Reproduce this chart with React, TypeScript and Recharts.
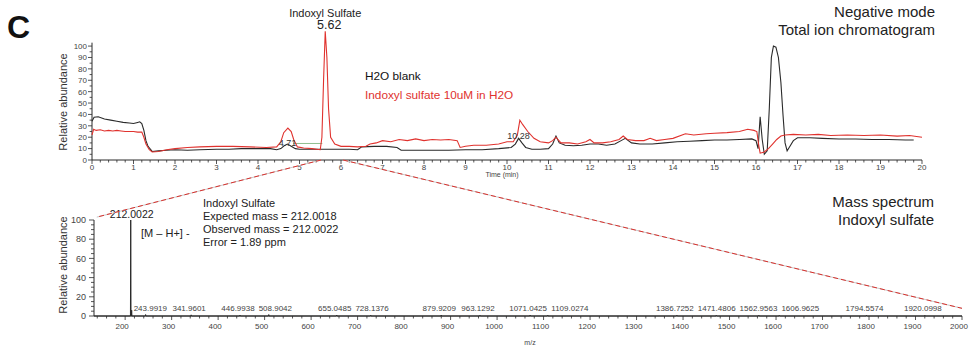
import React from 'react';
import { ComposedChart, Line, Scatter, XAxis, YAxis, ReferenceLine } from 'recharts';

const FONT = '"Liberation Sans", Arial, Helvetica, sans-serif';
const INK = '#2a2a2a';
const RED = '#e0322e';

// total ion chromatogram, [time (min), relative abundance]
const blankTrace: [number, number][] = [
  [0, 34], [0.05, 37.5], [0.15, 38], [0.3, 36], [0.45, 35], [0.6, 34], [0.75, 33], [0.9, 32.5],
  [1.0, 32], [1.1, 33], [1.15, 33.5], [1.2, 32], [1.25, 26], [1.3, 17], [1.35, 12], [1.45, 7.5],
  [1.6, 8], [1.8, 8.5], [2.0, 9], [2.3, 8.5], [2.6, 9], [3.0, 9.5], [3.3, 9.5], [3.6, 10],
  [4.0, 10], [4.3, 10], [4.45, 9], [4.55, 10], [4.63, 12.5], [4.71, 14], [4.8, 12], [4.9, 10],
  [5.0, 9.5], [5.3, 9.5], [5.6, 9.5], [5.9, 9.5], [6.2, 9.5], [6.4, 9], [6.5, 11.5], [6.8, 12],
  [7.1, 12], [7.35, 11], [7.45, 8.5], [7.8, 8.5], [8.2, 8.5], [8.6, 8.5], [9.0, 9], [9.4, 9],
  [9.8, 10], [10.1, 11], [10.2, 14], [10.28, 19], [10.36, 15], [10.45, 11], [10.6, 9.5], [10.8, 9.5],
  [11.0, 10], [11.1, 14], [11.18, 21], [11.26, 15], [11.4, 13], [11.6, 12.5], [11.8, 13], [12.0, 14],
  [12.2, 14], [12.4, 13], [12.6, 14], [12.75, 17], [12.85, 19], [13.0, 15], [13.2, 14], [13.5, 14],
  [13.8, 15], [14.1, 16], [14.4, 16.5], [14.7, 17], [15.0, 17.5], [15.3, 17.5], [15.6, 18], [15.9, 18.5],
  [16.0, 17], [16.05, 10], [16.1, 38], [16.15, 18], [16.2, 5], [16.27, 8], [16.32, 45], [16.37, 90],
  [16.42, 100], [16.48, 99], [16.54, 90], [16.6, 68], [16.65, 40], [16.7, 15], [16.75, 8], [16.8, 11],
  [16.9, 17], [17.0, 19.5], [17.3, 19.5], [17.6, 19], [18.0, 18.5], [18.4, 18.5], [18.8, 18], [19.2, 18],
  [19.6, 17.5], [19.8, 17.5],
];

const sampleTrace: [number, number][] = [
  [0, 22], [0.04, 27], [0.1, 26], [0.2, 26.5], [0.3, 25.5], [0.4, 26], [0.5, 25.5], [0.6, 26],
  [0.7, 25.5], [0.8, 25], [0.9, 25], [1.0, 25], [1.1, 24.5], [1.2, 24.5], [1.25, 20], [1.3, 14],
  [1.38, 9], [1.45, 7], [1.6, 7.5], [1.8, 9], [2.0, 10], [2.3, 11], [2.6, 11.5], [3.0, 12],
  [3.4, 12], [3.8, 11.5], [4.2, 11], [4.45, 11.5], [4.55, 16], [4.62, 24], [4.72, 28], [4.8, 25],
  [4.86, 18], [4.95, 11.5], [5.1, 10.5], [5.3, 10], [5.5, 9], [5.54, 20], [5.58, 70], [5.62, 113],
  [5.66, 90], [5.7, 45], [5.75, 20], [5.85, 14], [6.0, 12], [6.2, 12], [6.4, 11.5], [6.6, 12],
  [6.7, 14], [6.85, 15], [7.0, 17], [7.2, 16], [7.4, 18], [7.6, 17], [7.8, 18.5], [8.0, 17],
  [8.2, 18], [8.4, 17.5], [8.6, 18], [8.8, 17], [8.87, 11], [9.0, 12], [9.2, 13], [9.5, 13],
  [9.8, 14], [10.0, 16], [10.15, 16], [10.25, 22], [10.31, 35], [10.38, 31], [10.5, 25], [10.65, 19],
  [10.8, 16], [11.0, 15], [11.1, 17], [11.18, 20], [11.3, 15], [11.5, 15], [11.7, 14], [11.9, 16],
  [12.0, 18], [12.1, 15], [12.3, 15], [12.5, 16], [12.7, 18], [12.8, 21], [12.9, 18], [13.1, 17],
  [13.3, 17], [13.45, 19], [13.6, 17], [13.8, 18], [14.0, 19], [14.3, 23], [14.5, 22], [14.8, 23],
  [15.0, 23.5], [15.3, 24], [15.6, 25], [15.8, 27], [15.95, 26], [16.02, 25], [16.07, 12], [16.1, 6],
  [16.2, 7], [16.3, 10], [16.4, 14], [16.5, 18], [16.6, 21], [16.7, 22], [16.9, 22.5], [17.2, 22],
  [17.5, 22.5], [17.8, 21.5], [18.2, 22], [18.6, 21.5], [19.0, 22], [19.4, 21], [19.7, 21.5], [20.0, 20],
];

const baselineMark: [number, number][] = [[4.85, 14.5], [5.55, 14.5]];

const rtLabels = [
  { x: 4.71, y: 13, label: '4.71' },
  { x: 10.28, y: 19, label: '10.28' },
];
const mainPeak = [{ x: 5.62, y: 113, label: '5.62', name: 'Indoxyl Sulfate' }];

// mass spectrum, m/z and relative abundance
const peakMz = [212.0022, 214.0, 243.9919, 341.9601, 446.9938, 508.9042, 655.0485, 728.1376, 879.9209,
  963.1292, 1071.0425, 1109.0274, 1386.7252, 1471.4806, 1562.9563, 1606.9625, 1794.5574, 1920.0998];
const peakAbund = [100, 6, 1.5, 1.2, 1, 1.5, 1, 0.8, 1, 0.8, 1, 0.8, 0.8, 0.7, 0.8, 0.7, 0.7, 0.7];
const labelledFrom = 2; // first two peaks are labelled separately

const MZ_MIN = 133;
const MZ_MAX = 2000;

// layout
const W = 969;
const TOP = { h: 185, mt: 29, mr: 47, mb: 5, yw: 92, xh: 20 };
const BOT = { y0: 180, h: 167, mt: 40, mr: 7, mb: 11, yw: 94, xh: 20 };
const topPlotW = W - TOP.yw - TOP.mr;
const topPlotH = TOP.h - TOP.mt - TOP.mb - TOP.xh;
const botPlotW = W - BOT.yw - BOT.mr;
const botPlotH = BOT.h - BOT.mt - BOT.mb - BOT.xh;
const topX = (t: number) => TOP.yw + (t / 20) * topPlotW;
const topY = (v: number) => TOP.mt + topPlotH - (v / 115) * topPlotH;
const botX = (mz: number) => BOT.yw + ((mz - MZ_MIN) / (MZ_MAX - MZ_MIN)) * botPlotW;
const botY = (a: number) => BOT.y0 + BOT.mt + botPlotH - (a / 100) * botPlotH;

const timeTicks = Array.from({ length: 101 }, (_, i) => i / 5);
const topAbundTicks = Array.from({ length: 21 }, (_, i) => i * 5);
const mzTicks = Array.from({ length: 94 }, (_, i) => 140 + i * 20);
const botAbundTicks = Array.from({ length: 21 }, (_, i) => i * 5);

const toXY = (arr: [number, number][]) => arr.map(([x, y]) => ({ x, y }));

const spectrum = (() => {
  const pts = [{ x: MZ_MIN, y: 0 }];
  peakMz.forEach((mz, i) => {
    pts.push({ x: mz - 0.6, y: 0 }, { x: mz, y: peakAbund[i] }, { x: mz + 0.6, y: 0 });
  });
  pts.push({ x: MZ_MAX, y: 0 });
  return pts;
})();

// peak labels pushed right when they would overlap (as the instrument software does)
const LABEL_FS = 8;
const pxPerMz = botPlotW / (MZ_MAX - MZ_MIN);
const peakLabels = (() => {
  let prevRight = peakMz[labelledFrom - 1];
  return peakMz.slice(labelledFrom).map((mz, j) => {
    const text = mz.toFixed(4);
    const halfMz = (((text.length - 1) * 0.556 + 0.278) * LABEL_FS) / 2 / pxPerMz;
    const center = Math.max(mz, prevRight + 4 / pxPerMz + halfMz);
    prevRight = center + halfMz;
    return { x: center, y: peakAbund[j + labelledFrom], label: text };
  });
})();
const topPeakLabel = [{ x: peakMz[0], y: peakAbund[0], label: peakMz[0].toFixed(4) }];

const makeXTick = (isMajor: (v: number) => boolean, dy: number, dx: number) => (props: any) => {
  const { x, y, payload } = props;
  const major = isMajor(payload.value);
  return (
    <g>
      <line x1={x} x2={x} y1={y} y2={y + (major ? 4 : 2.5)} stroke={INK} strokeWidth={0.8} />
      {major && (
        <text x={x + dx} y={y + dy} textAnchor="middle" fontSize={8} fill="#444" fontFamily={FONT}>
          {payload.value}
        </text>
      )}
    </g>
  );
};

const makeYTick = (isMajor: (v: number) => boolean, len: number, gap: number, fs: number) => (props: any) => {
  const { x, y, payload } = props;
  const major = isMajor(payload.value);
  return (
    <g>
      <line x1={x - (major ? len : len * 0.6)} x2={x} y1={y} y2={y} stroke={INK} strokeWidth={0.8} />
      {major && (
        <text x={x - gap} y={y + fs * 0.36} textAnchor="end" fontSize={fs} fill="#444" fontFamily={FONT}>
          {payload.value}
        </text>
      )}
    </g>
  );
};

const rtLabelShape = (p: any) => (
  <text x={p.cx} y={p.cy + 1} textAnchor="middle" fontSize={9} fill="#333" fontFamily={FONT}>
    {p.payload.label}
  </text>
);

const mainPeakShape = (p: any) => (
  <g fontFamily={FONT} fill="#222" textAnchor="middle">
    <text x={p.cx} y={p.cy - 14} fontSize={11}>{p.payload.name}</text>
    <text x={p.cx + 4} y={p.cy - 2.5} fontSize={12.5}>{p.payload.label}</text>
  </g>
);

const mzLabelShape = (p: any) => (
  <text x={p.cx - 2} y={p.cy - 4} textAnchor="middle" fontSize={LABEL_FS} fill="#444" fontFamily={FONT}>
    {p.payload.label}
  </text>
);

const bigMzLabelShape = (p: any) => (
  <text x={p.cx + 1} y={p.cy - 2} textAnchor="middle" fontSize={10.5} fill="#222" fontFamily={FONT}>
    {p.payload.label}
  </text>
);

function Chromatogram() {
  return (
    <ComposedChart width={W} height={TOP.h} margin={{ top: TOP.mt, right: TOP.mr, bottom: TOP.mb, left: 0 }}>
      <XAxis
        type="number"
        dataKey="x"
        domain={[0, 20]}
        ticks={timeTicks}
        interval={0}
        height={TOP.xh}
        stroke={INK}
        tickLine={false}
        tickSize={0}
        tickMargin={0}
        tick={makeXTick((v) => Math.abs(v - Math.round(v)) < 1e-6, 10, 0)}
      />
      <YAxis
        type="number"
        dataKey="y"
        domain={[0, 115]}
        ticks={topAbundTicks}
        interval={0}
        width={TOP.yw}
        axisLine={false}
        tickLine={false}
        tickSize={0}
        tickMargin={0}
        tick={makeYTick((v) => v % 10 === 0, 4, 5, 8)}
      />
      <ReferenceLine segment={[{ x: 0, y: 0 }, { x: 0, y: 103 }]} stroke={INK} strokeWidth={1} />
      <Line data={toXY(baselineMark)} dataKey="y" stroke="#8fbf8f" strokeWidth={1} dot={false} isAnimationActive={false} />
      <Line data={toXY(blankTrace)} dataKey="y" stroke={INK} strokeWidth={1.1} dot={false} isAnimationActive={false} />
      <Line data={toXY(sampleTrace)} dataKey="y" stroke={RED} strokeWidth={1.1} dot={false} isAnimationActive={false} />
      <Scatter data={rtLabels} dataKey="y" shape={rtLabelShape} isAnimationActive={false} />
      <Scatter data={mainPeak} dataKey="y" shape={mainPeakShape} isAnimationActive={false} />
    </ComposedChart>
  );
}

function MassSpectrum() {
  return (
    <ComposedChart width={W} height={BOT.h} margin={{ top: BOT.mt, right: BOT.mr, bottom: BOT.mb, left: 0 }}>
      <XAxis
        type="number"
        dataKey="x"
        domain={[MZ_MIN, MZ_MAX]}
        ticks={mzTicks}
        interval={0}
        height={BOT.xh}
        stroke={INK}
        tickLine={false}
        tickSize={0}
        tickMargin={0}
        tick={makeXTick((v) => v % 100 === 0, 13, -3)}
      />
      <YAxis
        type="number"
        dataKey="y"
        domain={[0, 100]}
        ticks={botAbundTicks}
        interval={0}
        width={BOT.yw}
        stroke={INK}
        tickLine={false}
        tickSize={0}
        tickMargin={0}
        tick={makeYTick((v) => v % 20 === 0, 5, 8, 9)}
      />
      <Line data={spectrum} dataKey="y" stroke={INK} strokeWidth={1} dot={false} isAnimationActive={false} />
      <Scatter data={peakLabels} dataKey="y" shape={mzLabelShape} isAnimationActive={false} />
      <Scatter data={topPeakLabel} dataKey="y" shape={bigMzLabelShape} isAnimationActive={false} />
    </ComposedChart>
  );
}

function Overlay() {
  const leftTop = { x: topX(5.52), y: topY(0) };
  const rightTop = { x: topX(6.05), y: topY(0) };
  const leftBot = { x: botX(139), y: botY(103) };
  const rightBot = { x: botX(MZ_MAX), y: botY(8) };
  const dashed = (a: { x: number; y: number }, b: { x: number; y: number }) => (
    <g>
      <line x1={a.x} y1={a.y} x2={b.x} y2={b.y} stroke="#c8c8c8" strokeWidth={1} />
      <line x1={a.x} y1={a.y} x2={b.x} y2={b.y} stroke="#d9302c" strokeWidth={1} strokeDasharray="5 3" />
    </g>
  );
  return (
    <svg width={W} height={347} style={{ position: 'absolute', left: 0, top: 0, pointerEvents: 'none' }} fontFamily={FONT}>
      <text x={7} y={38} fontSize={32} fontWeight="bold" fill="#111">C</text>
      <text x={935} y={17} fontSize={15} textAnchor="end" fill="#222">Negative mode</text>
      <text x={935} y={35} fontSize={15} textAnchor="end" fill="#222">Total ion chromatogram</text>
      <text x={365} y={80} fontSize={11.8} fill="#111">H2O blank</text>
      <text x={365} y={99} fontSize={11.8} fill={RED}>Indoxyl sulfate 10uM in H2O</text>
      <text x={63} y={102} fontSize={11} textAnchor="middle" dominantBaseline="central" transform="rotate(-90 63 102)" fill="#333">Relative abundance</text>
      <text x={502} y={177} fontSize={7} textAnchor="middle" fill="#444">Time (min)</text>

      {dashed(leftTop, leftBot)}
      {dashed(rightTop, rightBot)}

      <text x={934} y={207} fontSize={15} textAnchor="end" fill="#222">Mass spectrum</text>
      <text x={934} y={225} fontSize={15} textAnchor="end" fill="#222">Indoxyl sulfate</text>
      <text x={203} y={207} fontSize={11} fill="#222">Indoxyl Sulfate</text>
      <text x={203} y={220} fontSize={11} fill="#222">Expected mass = 212.0018</text>
      <text x={203} y={233} fontSize={11} fill="#222">Observed mass = 212.0022</text>
      <text x={203} y={246} fontSize={11} fill="#222">Error = 1.89 ppm</text>
      <text x={141} y={237} fontSize={11} fill="#222">[M – H+] -</text>
      <text x={63} y={265} fontSize={11} textAnchor="middle" dominantBaseline="central" transform="rotate(-90 63 265)" fill="#333">Relative abundance</text>
      <text x={530} y={345} fontSize={7} textAnchor="middle" fill="#444">m/z</text>
    </svg>
  );
}

export default function App() {
  return (
    <div style={{ position: 'absolute', left: 0, top: 0, width: W, height: 347, background: '#fff', overflow: 'hidden' }}>
      <div style={{ position: 'absolute', left: 0, top: 0 }}>
        <Chromatogram />
      </div>
      <div style={{ position: 'absolute', left: 0, top: BOT.y0 }}>
        <MassSpectrum />
      </div>
      <Overlay />
    </div>
  );
}
